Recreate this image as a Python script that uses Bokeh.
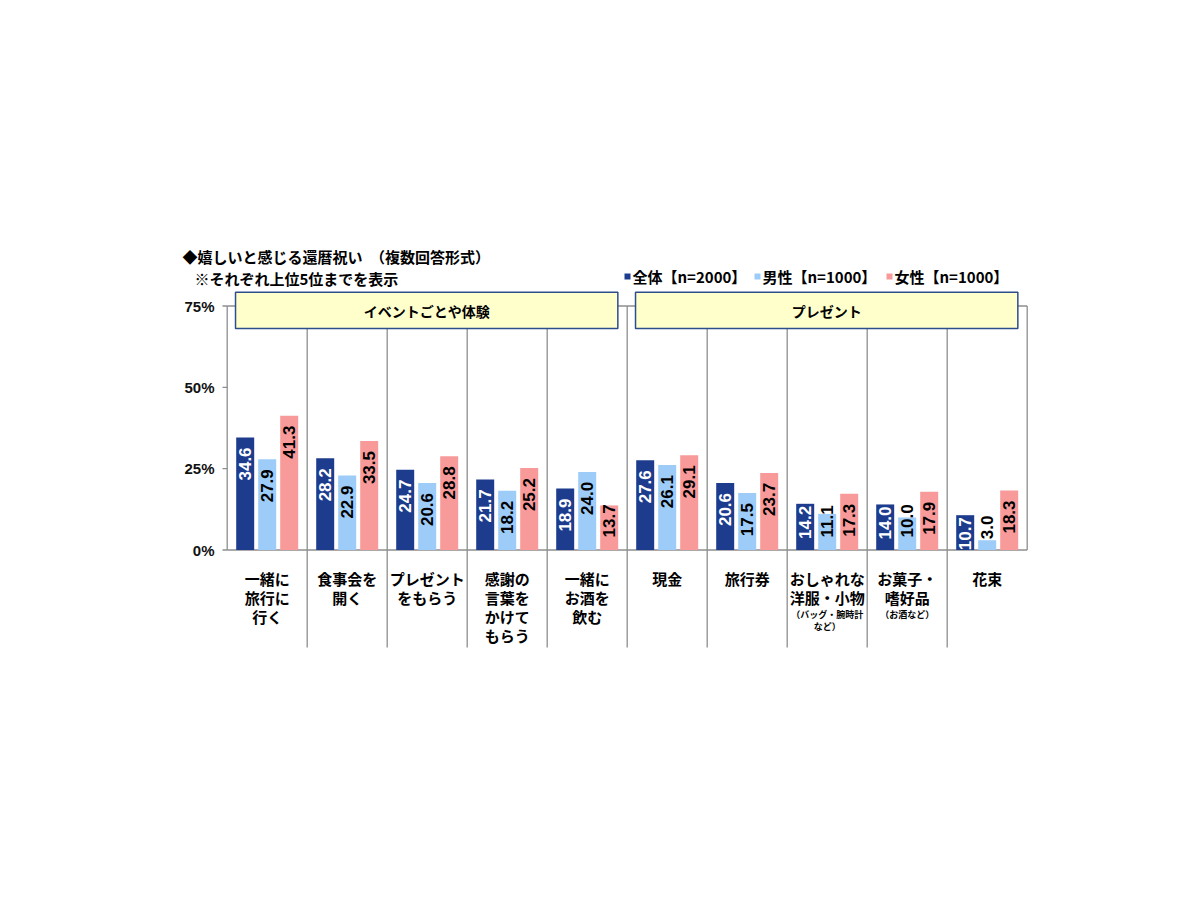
import numpy as np
from bokeh.plotting import figure
from bokeh.models import Range1d
from bokeh.core.properties import value
from bokeh.embed import file_html
from bokeh.resources import INLINE

# ---------------- data ----------------
title_line1 = "◆嬉しいと感じる還暦祝い　（複数回答形式）"
title_line2 = "※それぞれ上位5位までを表示"
series_names = ["全体【n=2000】", "男性【n=1000】", "女性【n=1000】"]
series_colors = ["#1E3C8E", "#9DCCF8", "#F89A9A"]
label_colors = ["white", "black", "black"]
categories = [
    ["一緒に", "旅行に", "行く"],
    ["食事会を", "開く"],
    ["プレゼント", "をもらう"],
    ["感謝の", "言葉を", "かけて", "もらう"],
    ["一緒に", "お酒を", "飲む"],
    ["現金"],
    ["旅行券"],
    ["おしゃれな", "洋服・小物"],
    ["お菓子・", "嗜好品"],
    ["花束"],
]
category_notes = [[], [], [], [], [], [], [], ["（バッグ・腕時計", "など）"], ["（お酒など）"], []]
group_names = ["イベントごとや体験", "プレゼント"]
group_sizes = [5, 5]
total = [34.6, 28.2, 24.7, 21.7, 18.9, 27.6, 20.6, 14.2, 14.0, 10.7]
male = [27.9, 22.9, 20.6, 18.2, 24.0, 26.1, 17.5, 11.1, 10.0, 3.0]
female = [41.3, 33.5, 28.8, 25.2, 13.7, 29.1, 23.7, 17.3, 17.9, 18.3]
series_values = [total, male, female]
y_ticks = [0, 25, 50, 75]
y_tick_labels = ["0%", "25%", "50%", "75%"]

# ---------------- layout ----------------
W, H, PAGE = 1184, 884, 0
X0, XS = 226.7, 80.0      # page px of x=0, px per category
Y0, YS = 549.5, 244.0 / 75  # page px of 0%, px per %

def xd(X):
    return (X - X0) / XS

def yd(Y):
    return (Y0 - Y) / YS

def dy(px):
    return px / YS

CJK = value("Noto Sans CJK JP")
LAT = value("Liberation Sans")
n = len(categories)
ymax = y_ticks[-1]

p = figure(width=W, height=H,
           x_range=Range1d(xd(PAGE), xd(PAGE + W)),
           y_range=Range1d(yd(PAGE + H), yd(PAGE)),
           output_backend="svg", toolbar_location=None,
           x_axis_location=None, y_axis_location=None,
           min_border=0, outline_line_color=None)
p.min_border_left = p.min_border_right = p.min_border_top = p.min_border_bottom = 0
p.xgrid.grid_line_color = None
p.ygrid.grid_line_color = None
p.background_fill_color = "white"
p.border_fill_color = "white"

line_col = "#8E8E8E"
# separators (behind boxes)
sep_x = list(range(1, n))
p.segment(x0=sep_x, y0=[ymax] * len(sep_x), x1=sep_x, y1=[yd(647)] * len(sep_x),
          line_color=line_col, line_width=1.3)
# frame: left axis, right, top, bottom
p.segment(x0=[0, n, 0, 0], y0=[0, 0, ymax, 0], x1=[0, n, n, n], y1=[ymax, ymax, ymax, 0],
          line_color=line_col, line_width=1.3)
# y ticks
p.segment(x0=[xd(222)] * len(y_ticks), y0=y_ticks, x1=[0] * len(y_ticks), y1=y_ticks,
          line_color=line_col, line_width=1.3)
p.text(x=[xd(214)] * len(y_ticks), y=y_ticks, text=y_tick_labels,
       text_font=LAT, text_font_size="15px", text_font_style="bold",
       text_align="right", text_baseline="middle", text_color="#111111")

# bars
offsets = [-0.275, 0.0, 0.275]
bw = 0.225
for s in range(3):
    vals = series_values[s]
    xs = [i + 0.5 + offsets[s] for i in range(n)]
    p.vbar(x=xs, top=vals, bottom=0, width=bw, fill_color=series_colors[s], line_color=None)
    col = label_colors[s]
    top_x, top_y, top_t, bot_x, bot_y, bot_t = [], [], [], [], [], []
    for x, v in zip(xs, vals):
        t = f"{v:.1f}"
        if v >= 17:
            # inside end: text ends 10px below the bar top
            top_x.append(x); top_y.append(v - dy(10)); top_t.append(t)
        elif v >= 8 and col == "white":
            # short dark bar: keep white text inside, just under the top
            top_x.append(x); top_y.append(v - dy(2)); top_t.append(t)
        elif v >= 8:
            # short bar: text starts 12px above the baseline
            bot_x.append(x); bot_y.append(dy(12.5)); bot_t.append(t)
        else:
            # too short: text placed just above the bar
            bot_x.append(x); bot_y.append(v + dy(1)); bot_t.append(t)
    if top_x:
        p.text(x=top_x, y=top_y, text=top_t, angle=np.pi / 2,
               text_font=LAT, text_font_size="17px", text_font_style="bold",
               text_align="right", text_baseline="middle", text_color=col)
    if bot_x:
        p.text(x=bot_x, y=bot_y, text=bot_t, angle=np.pi / 2,
               text_font=LAT, text_font_size="17px", text_font_style="bold",
               text_align="left", text_baseline="middle", text_color=col)

# group boxes
start = 0
for g, size in zip(group_names, group_sizes):
    left, right = start + 0.104, start + size - 0.117
    p.quad(left=[left], right=[right], top=[yd(291.7)], bottom=[yd(328)],
           fill_color="#FFFFCC", line_color="#2D4D8C", line_width=1.5)
    p.text(x=[(left + right) / 2], y=[yd(310)], text=[g],
           text_font=CJK, text_font_size="14px", text_font_style="bold",
           text_align="center", text_baseline="middle", text_color="black")
    start += size

# category labels
lx, ly, lt, nx, ny, nt = [], [], [], [], [], []
for i, (lines, notes) in enumerate(zip(categories, category_notes)):
    for k, t in enumerate(lines):
        lx.append(i + 0.5); ly.append(yd(577.5 + 19.3 * k)); lt.append(t)
    base = 577.5 + 19.3 * (len(lines) - 1) + 17
    for k, t in enumerate(notes):
        nx.append(i + 0.5); ny.append(yd(base + 12 * k)); nt.append(t)
p.text(x=lx, y=ly, text=lt, text_font=CJK, text_font_size="15px", text_font_style="bold",
       text_align="center", text_baseline="middle", text_color="black")
p.text(x=nx, y=ny, text=nt, text_font=CJK, text_font_size="9px", text_font_style="bold",
       text_align="center", text_baseline="middle", text_color="black")

# title
p.text(x=[xd(182)], y=[yd(256)], text=[title_line1], text_font=CJK, text_font_size="15px",
       text_font_style="bold", text_align="left", text_baseline="middle", text_color="black")
p.text(x=[xd(194)], y=[yd(278)], text=[title_line2], text_font=CJK, text_font_size="15px",
       text_font_style="bold", text_align="left", text_baseline="middle", text_color="black")

# legend
leg_x = [627, 757, 889]
p.scatter(x=[xd(v) for v in leg_x], y=[yd(276)] * 3, marker="square", size=6,
          fill_color=series_colors, line_color=None)
p.text(x=[xd(v + 5) for v in leg_x], y=[yd(276)] * 3, text=series_names,
       text_font=CJK, text_font_size="15px", text_font_style="bold",
       text_align="left", text_baseline="middle", text_color="black")

open("out.html", "w").write(file_html(p, INLINE))
